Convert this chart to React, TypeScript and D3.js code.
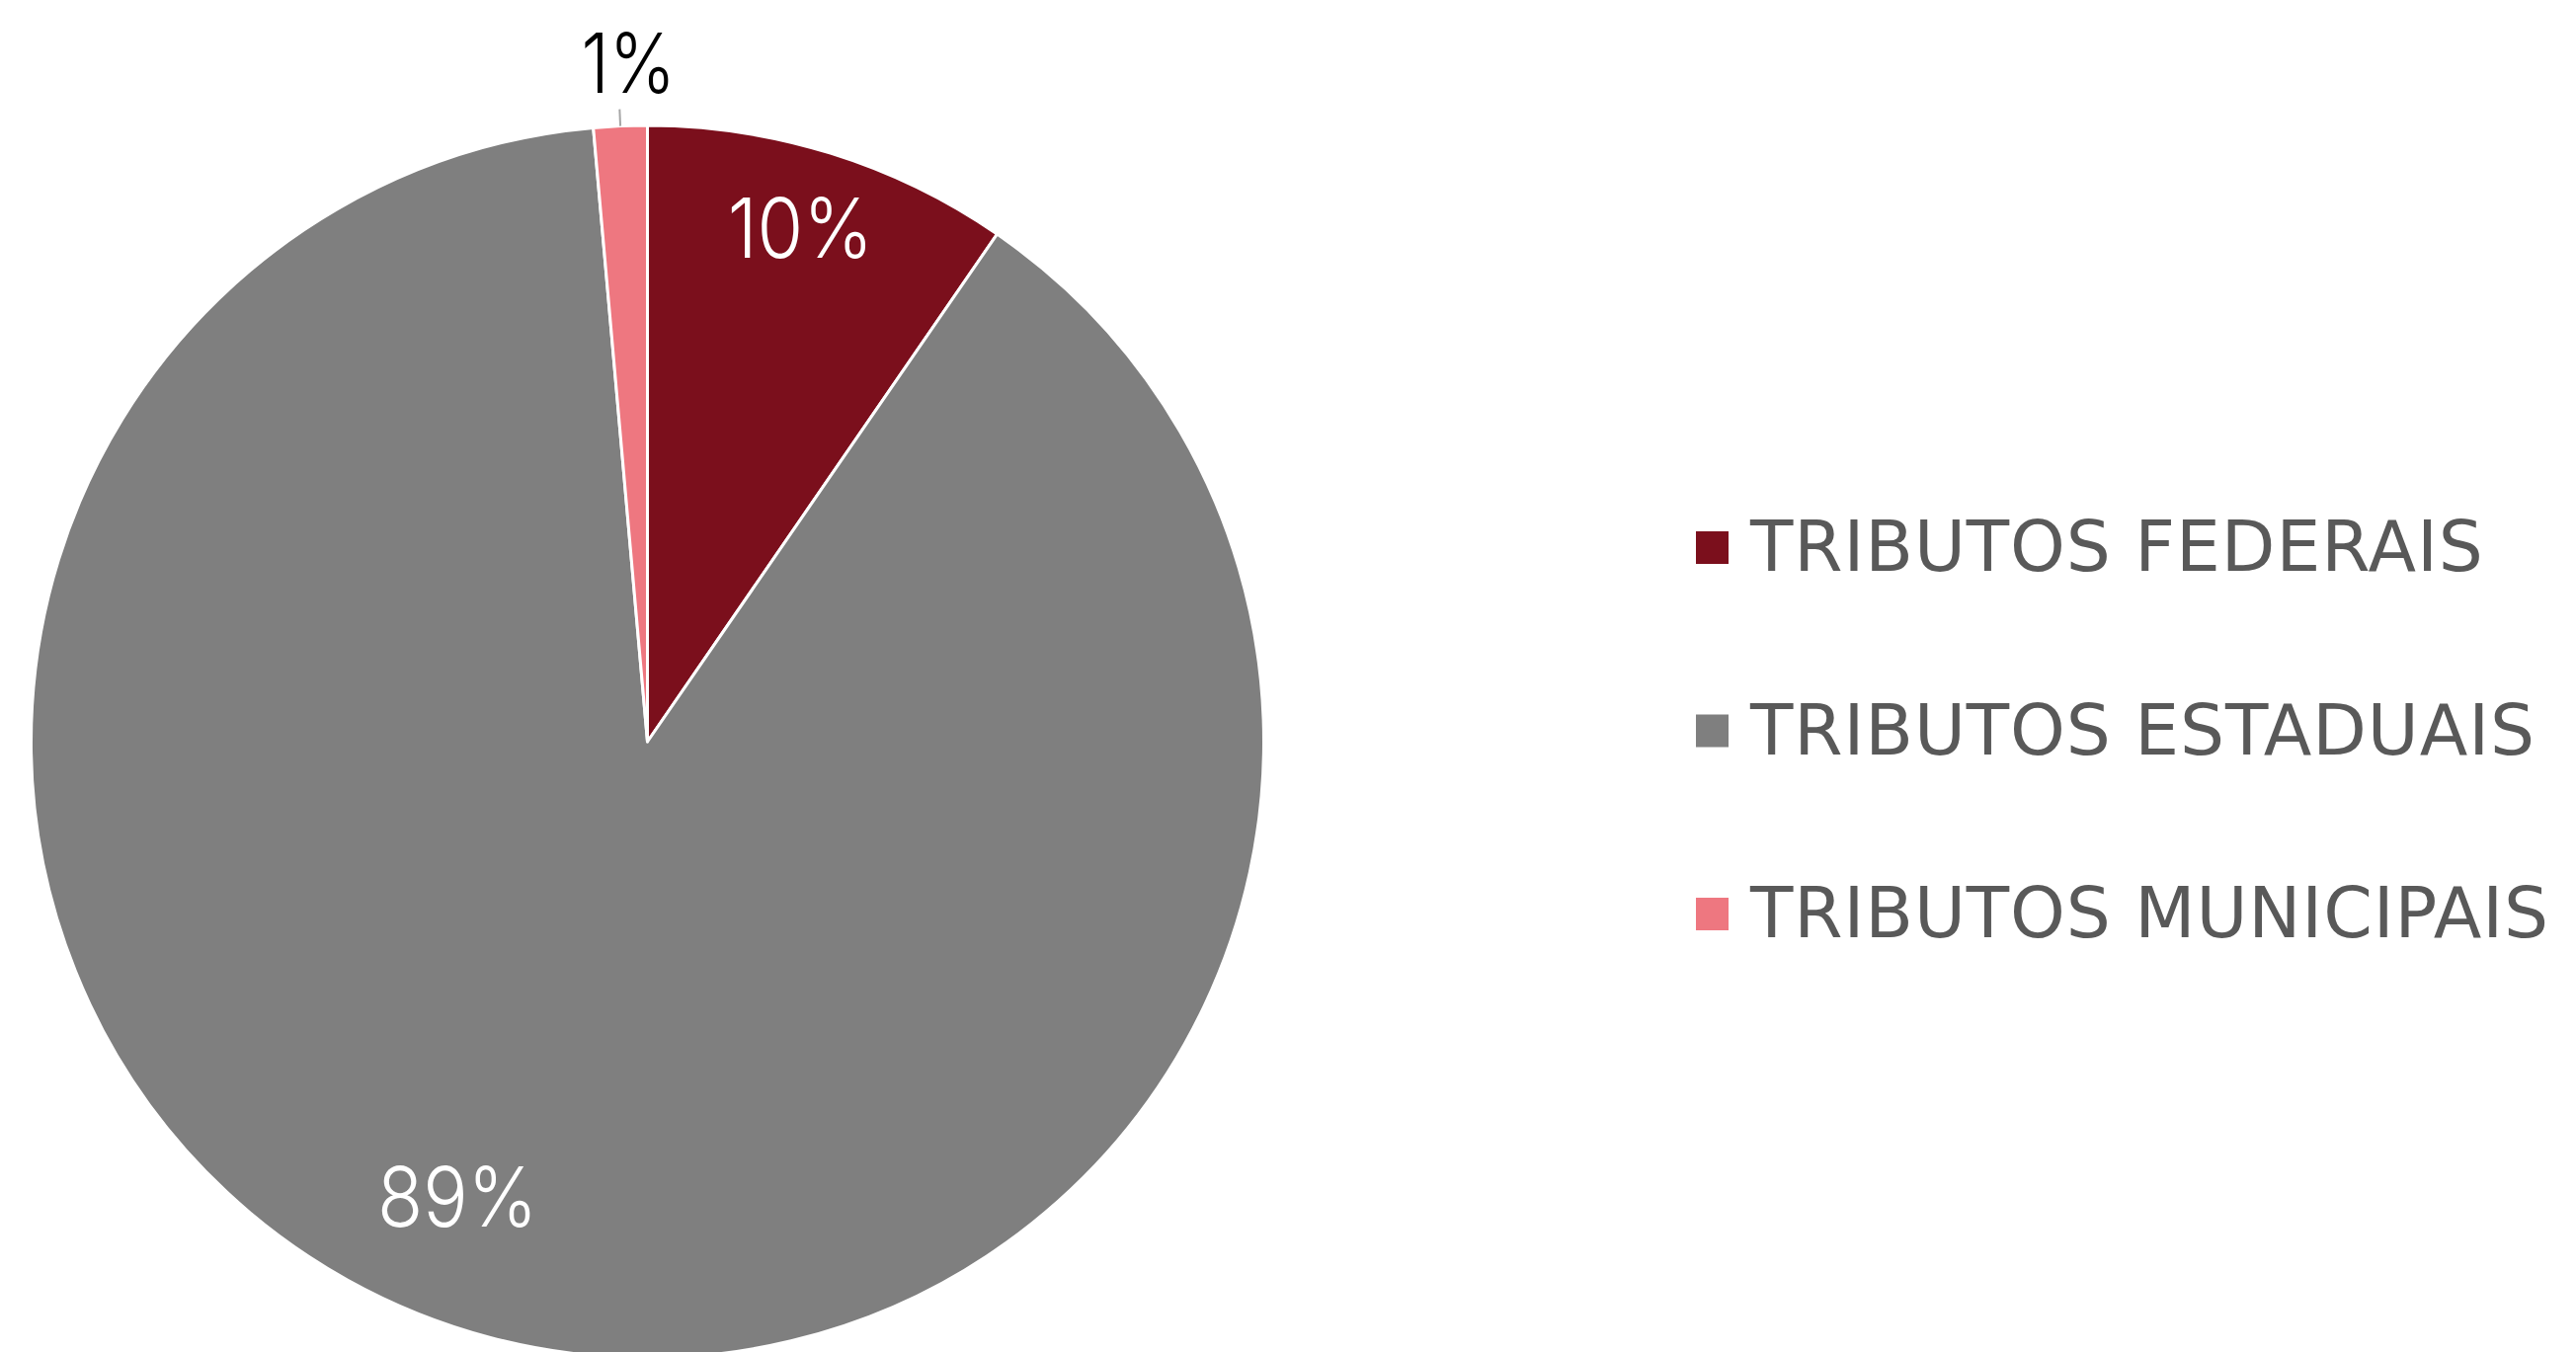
import React from "react";
import * as d3 from "d3";

const categories = ["TRIBUTOS FEDERAIS", "TRIBUTOS ESTADUAIS", "TRIBUTOS MUNICIPAIS"];
const shares = [9.6, 89.0, 1.4];
const labels = ["10%", "89%", "1%"];
const colors = ["#7B0F1C", "#7F7F7F", "#EE7780"];

const W = 2608;
const H = 1369;
const cx = 655.5;
const cy = 751;
const R = 624;

// label placement style: radius fraction, angle offset (deg), outside or inside
const labelStyle = [
  { rf: 0.87, off: -0.7, outside: false, color: "#FFFFFF" },
  { rf: 0.8, off: 7.9, outside: false, color: "#FFFFFF" },
  { rf: 1.0, off: 0, outside: true, color: "#000000" },
];

export default function App() {
  const data = categories.map((c, i) => ({ name: c, value: shares[i], label: labels[i], color: colors[i] }));
  const pie = d3.pie<any>().sort(null).value((d: any) => d.value);
  const arcs = pie(data);
  const arc = d3.arc<any>().innerRadius(0).outerRadius(R);

  const labelFont = 84;
  const capLabel = labelFont * 0.727;
  const sx = 0.9;
  const labelFamily = "Inter";

  return (
    <svg width={W} height={H} style={{ position: "absolute", left: 0, top: 0, background: "#fff" }}>
      <g transform={`translate(${cx},${cy})`}>
        {arcs.map((a, i) => (
          <path key={i} d={arc(a) as string} fill={a.data.color} stroke="#FFFFFF" strokeWidth={3} strokeLinejoin="round" />
        ))}
        {arcs.map((a, i) => {
          const st = labelStyle[i];
          const mid = (a.startAngle + a.endAngle) / 2 + (st.off * Math.PI) / 180;
          if (st.outside) {
            const x1 = R * Math.sin(mid);
            const y1 = -R * Math.cos(mid);
            const x2 = (R + 17) * Math.sin(mid);
            const y2 = -(R + 17) * Math.cos(mid);
            const tx = x2 + 9;
            const ty = y2 - 17;
            return (
              <g key={"l" + i}>
                <line x1={x1} y1={y1} x2={x2} y2={y2} stroke="#A6A6A6" strokeWidth={2} />
                <text
                  transform={`translate(${tx},${ty}) scale(${sx * 0.95},1)`}
                  textAnchor="middle"
                  fontFamily={labelFamily}
                  fontWeight={300}
                  fontSize={labelFont}
                  fill={st.color}
                >
                  {a.data.label}
                </text>
              </g>
            );
          }
          const r = R * st.rf;
          const x = r * Math.sin(mid);
          const y = -r * Math.cos(mid) + capLabel / 2;
          return (
            <text
              key={"l" + i}
              transform={`translate(${x},${y}) scale(${sx},1)`}
              textAnchor="middle"
              fontFamily={labelFamily}
              fontWeight={300}
              fontSize={labelFont}
              fill={st.color}
            >
              {a.data.label}
            </text>
          );
        })}
      </g>
      <g transform="translate(1717,538)">
        {data.map((d, i) => (
          <g key={d.name} transform={`translate(0,${i * 185.5})`}>
            <rect x={0} y={0} width={33} height={33} fill={d.color} />
            <text x={55} y={40} fontFamily="DejaVu Sans" fontSize={71} letterSpacing={0.9} fill="#595959">
              {d.name}
            </text>
          </g>
        ))}
      </g>
    </svg>
  );
}
